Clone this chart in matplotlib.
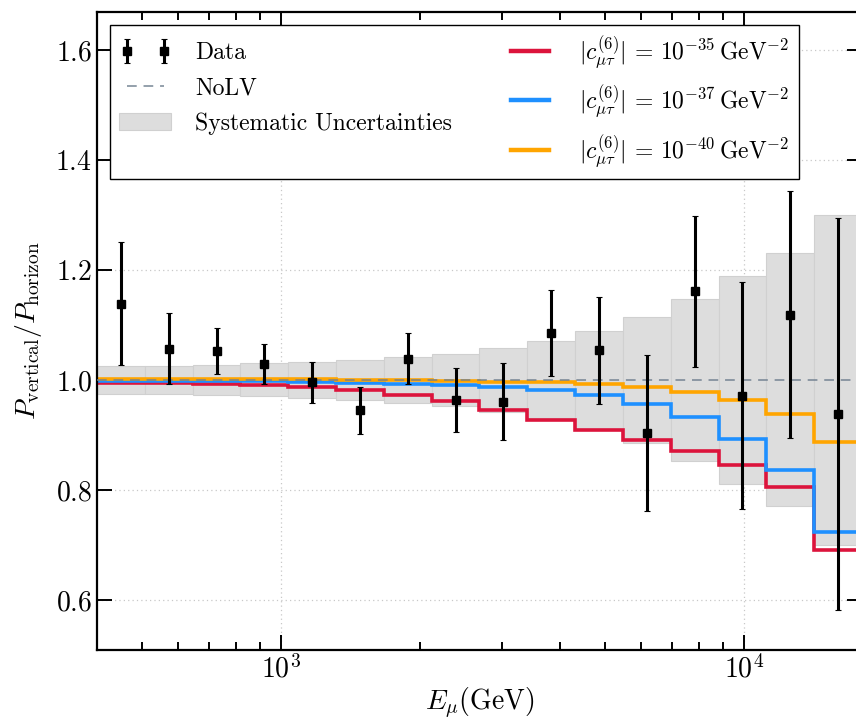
import numpy as np
import matplotlib
matplotlib.use("Agg")
import matplotlib.pyplot as plt

plt.rcParams.update({
    "font.family": "serif",
    "font.serif": ["cmr10"],
    "mathtext.fontset": "cm",
    "axes.formatter.use_mathtext": True,
    "axes.unicode_minus": False,
})

# --- data ---
bin_edges = np.logspace(np.log10(400), np.log10(18000), 17)

data_val = [1.139, 1.056, 1.053, 1.029, 0.996, 0.945, 1.039, 0.963,
            0.960, 1.085, 1.054, 0.904, 1.161, 0.971, 1.119, 0.939]
data_hi = [1.250, 1.121, 1.094, 1.065, 1.033, 0.988, 1.085, 1.021,
           1.030, 1.163, 1.151, 1.046, 1.298, 1.179, 1.344, 1.295]
data_lo = [1.027, 0.993, 1.010, 0.993, 0.959, 0.901, 0.993, 0.905,
           0.890, 1.008, 0.957, 0.762, 1.024, 0.765, 0.894, 0.582]

sys_half = [0.025, 0.025, 0.027, 0.030, 0.033, 0.036, 0.042, 0.048,
            0.058, 0.070, 0.089, 0.114, 0.147, 0.189, 0.230, 0.300]

red_35 = [0.995, 0.995, 0.993, 0.990, 0.987, 0.982, 0.973, 0.961,
          0.945, 0.927, 0.909, 0.890, 0.871, 0.846, 0.806, 0.691]
blue_37 = [0.999, 0.999, 0.999, 0.998, 0.997, 0.995, 0.992, 0.990,
           0.988, 0.982, 0.972, 0.956, 0.932, 0.893, 0.836, 0.724]
orange_40 = [1.001, 1.001, 1.001, 1.001, 1.001, 1.000, 1.000, 0.999,
             0.997, 0.996, 0.993, 0.987, 0.978, 0.963, 0.939, 0.887]

model_labels = [
    r"$|c^{(6)}_{\mu\tau}| \,=\, 10^{-35}\,\mathrm{GeV}^{-2}$",
    r"$|c^{(6)}_{\mu\tau}| \,=\, 10^{-37}\,\mathrm{GeV}^{-2}$",
    r"$|c^{(6)}_{\mu\tau}| \,=\, 10^{-40}\,\mathrm{GeV}^{-2}$",
]

centers = np.sqrt(bin_edges[:-1] * bin_edges[1:])
data_val = np.array(data_val)
yerr = [data_val - np.array(data_lo), np.array(data_hi) - data_val]
sys_half = np.array(sys_half)

fig = plt.figure(figsize=(8.56, 7.22), dpi=100)
ax = fig.add_axes([97 / 856, 72 / 722, 765 / 856, 638 / 722])

# systematic band
sys_patch = ax.bar(bin_edges[:-1], 2 * sys_half, width=np.diff(bin_edges),
                   bottom=1 - sys_half, align="edge", color="#dddddd",
                   edgecolor="#d0d0d0", linewidth=0.8, zorder=1,
                   label="Systematic Uncertainties")

# model predictions
lines = []
for vals, col, lab in zip([red_35, blue_37, orange_40],
                          ["#dc143c", "#1e90ff", "#ffa500"], model_labels):
    ax.stairs(vals, bin_edges, baseline=None, color=col, linewidth=2.6,
              zorder=2)
    lines.append(plt.Line2D([], [], color=col, linewidth=3.2, label=lab))

nolv = ax.axhline(1.0, color="slategray", alpha=0.75, linewidth=1.4,
                  dashes=(5, 3.5), zorder=3, label="NoLV")

data = ax.errorbar(centers, data_val, yerr=yerr, fmt="s", color="black",
                   markersize=6, elinewidth=2.2, capsize=2.5, capthick=0.8,
                   ecolor="black", zorder=5, label="Data")

ax.set_xscale("log")
ax.set_xlim(400, 18000)
ax.set_ylim(0.509, 1.669)
ax.set_yticks([0.6, 0.8, 1.0, 1.2, 1.4, 1.6])
ax.yaxis.set_minor_locator(matplotlib.ticker.NullLocator())

ax.grid(True, which="major", linestyle=(0, (1, 2.5)), color="#c8c8c8",
        linewidth=0.9)
ax.set_axisbelow(True)

ax.tick_params(which="both", direction="in", top=True, right=True,
               labelsize=20, width=1.4)
ax.tick_params(which="major", length=11)
ax.tick_params(which="minor", length=6)
for sp in ax.spines.values():
    sp.set_linewidth(1.6)

ax.set_xlabel(r"$E_\mu(\mathrm{GeV})$", fontsize=20, labelpad=1)
ax.set_ylabel(r"$P_\mathrm{vertical}/P_\mathrm{horizon}$", fontsize=20,
              labelpad=8)

handles = [data, nolv, sys_patch] + lines
labels = ["Data", "NoLV", "Systematic Uncertainties"] + model_labels
leg = ax.legend(handles, labels, ncol=2, loc="upper left",
                bbox_to_anchor=(0.0, 1.0), fontsize=17, numpoints=2,
                fancybox=False, framealpha=1, edgecolor="black",
                handlelength=2.2, columnspacing=2.2, labelspacing=0.55,
                handletextpad=1.0, borderaxespad=0.55)
leg.get_frame().set_linewidth(1.0)

fig.savefig("out.png", dpi=100)
